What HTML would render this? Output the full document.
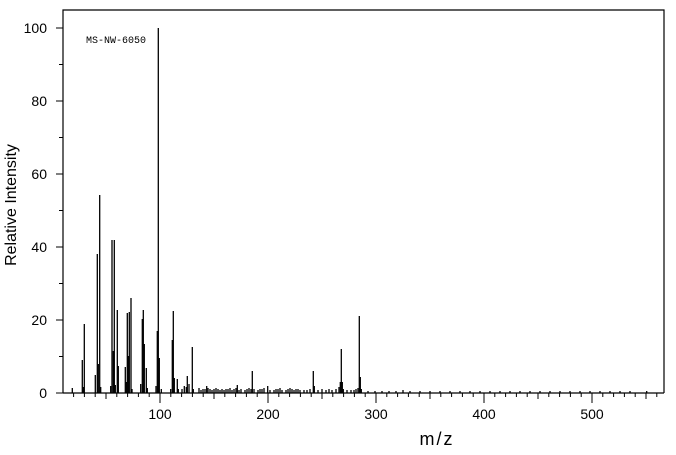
<!DOCTYPE html>
<html><head><meta charset="utf-8"><style>
html,body{margin:0;padding:0;background:#fff;}
svg{display:block;}
text{font-family:"Liberation Sans",sans-serif;fill:#000;}
</style></head><body>
<svg id="s" width="676" height="455" viewBox="0 0 676 455" xmlns="http://www.w3.org/2000/svg">
<rect x="0" y="0" width="676" height="455" fill="#fff"/>
<polyline points="63,393 63,10 664,10 664,393" fill="none" stroke="#000" stroke-width="1.2"/>
<line x1="63" y1="393" x2="664" y2="393" stroke="#000" stroke-width="1.2"/>
<g id="ticks" stroke="#000" stroke-width="1"></g>
<g id="peaks" stroke="#000" stroke-width="1.3"></g>
<text x="86" y="43" style="font-family:'Liberation Mono',monospace;font-size:10px">MS-NW-6050</text>
<g font-size="14" text-anchor="end">
<text x="47" y="33">100</text>
<text x="47" y="106">80</text>
<text x="47" y="179">60</text>
<text x="47" y="252">40</text>
<text x="47" y="325">20</text>
<text x="47" y="398">0</text>
</g>
<g font-size="14" text-anchor="middle">
<text x="160" y="419">100</text>
<text x="268" y="419">200</text>
<text x="376" y="419">300</text>
<text x="484" y="419">400</text>
<text x="592" y="419">500</text>
</g>
<text x="437" y="445" font-size="18" text-anchor="middle" letter-spacing="2">m/z</text>
<text transform="translate(16,205) rotate(-90)" font-size="16" text-anchor="middle">Relative Intensity</text>
</svg>
<script>
var NS="http://www.w3.org/2000/svg";
function ln(g,x1,y1,x2,y2){var l=document.createElementNS(NS,"line");l.setAttribute("x1",x1);l.setAttribute("y1",y1);l.setAttribute("x2",x2);l.setAttribute("y2",y2);g.appendChild(l);}
var t=document.getElementById("ticks");
for(var v=0;v<=100;v+=10){var y=393-3.65*v;ln(t,v%20==0?56:59,y,63,y);}
for(var m=20;m<=560;m+=10){var x=52+1.08*m;var L=m%100==0?10:(m%50==0?6:4);ln(t,x,393,x,393+L);}
var p=document.getElementById("peaks");
var pk=[[72.3,388],[82.3,360],[84.3,324],[83.3,387],[95.3,375],[97.3,254],[98.3,364],[99.7,195],[100.7,387],[110.7,386],[112,240],[113.3,351],[114.3,240],[115.3,385],[117.3,310],[118.3,366],[125.3,367],[126.3,382],[127.3,313],[128.3,356],[129.3,312],[131,298],[132,389],[140.7,384],[142.3,319],[143.3,310],[144.3,344],[146.3,368],[147.3,388],[156,386],[157.3,331],[158.3,28],[159.3,358],[161.3,389],[170.7,389],[172.3,340],[173.3,311],[174.3,378],[177.3,379],[178.3,389],[182,389],[184.3,386],[186.3,387],[187.3,376],[189,384],[192.3,347],[193.3,389],[199,388],[201,390],[203,389],[205,389],[206.7,386],[208,388],[210,389],[212,390],[214,389],[216,388],[218,389],[220,390],[222,389],[224,390],[226,389],[228,389],[230,388],[232,390],[234,389],[236,388],[237.3,385],[239,390],[241,389],[245,390],[247,389],[249,388],[251,389],[252.3,371],[254,389],[258,390],[260,389],[262,389],[264,388],[267.7,386],[270,390],[274,390],[276,389],[278,389],[280,388],[282,390],[286,390],[288,389],[290,388],[292,389],[294,390],[296,389],[298,389],[300,390],[304,390],[307,390],[310,389],[313.3,371],[314.3,386],[318,390],[322,389],[326,390],[329,389],[332,390],[336,389],[339,387],[340.3,382],[341.3,349],[342.3,382],[343.3,389],[347,390],[351,390],[354,390],[356,389],[358,388],[359.3,316],[360.3,377],[361.3,389],[368,391],[375,391],[382,391],[389,391],[396,391],[403,390],[410,391],[420,391],[430,391],[440,391],[450,391],[460,391],[470,391],[480,391],[490,391],[500,391],[510,391],[520,391],[530,391],[540,391],[550,391],[560,391],[570,391],[580,391],[590,391],[600,391],[610,391],[620,391],[630,391],[646.7,391]];
pk.forEach(function(a){ln(p,a[0],393,a[0],a[1]);});
</script>
</body></html>
